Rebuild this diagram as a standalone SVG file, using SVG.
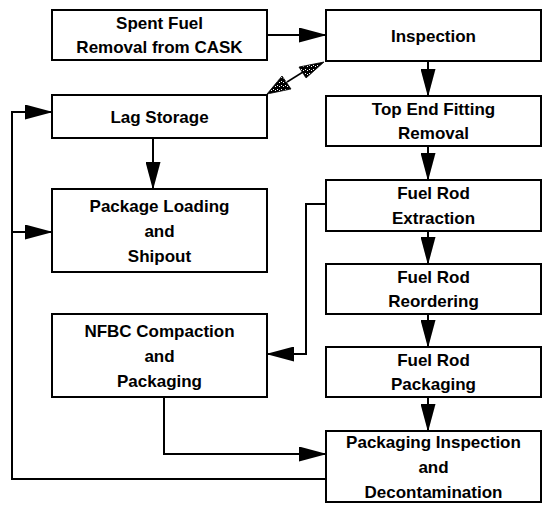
<svg xmlns="http://www.w3.org/2000/svg" width="547" height="505" viewBox="0 0 547 505">
  <style>
    .box { fill: #ffffff; stroke: #000000; stroke-width: 2; }
    .lbl { font-family: "Liberation Sans", Arial, sans-serif; font-weight: bold; font-size: 17px; fill: #000000; text-anchor: middle; }
    .wire { fill: none; stroke: #000000; stroke-width: 2; }
    .thin { fill: none; stroke: #000000; stroke-width: 1.5; }
  </style>
  <defs>
    <marker id="arrow" markerUnits="userSpaceOnUse" markerWidth="28" markerHeight="15" refX="27" refY="7.5" orient="auto" viewBox="0 0 28 15">
      <path d="M0,0 L28,7.5 L0,15 Z" fill="#000000"/>
    </marker>
    <!-- speckled fill for the two-way arrow heads -->
    <pattern id="stipple" width="4" height="4" patternUnits="userSpaceOnUse">
      <rect width="4" height="4" fill="#000000"/>
      <rect x="1" y="1" width="1" height="1" fill="#ffffff"/>
      <rect x="3" y="2" width="1" height="1" fill="#ffffff"/>
    </pattern>
  </defs>

  <rect width="547" height="505" fill="#ffffff"/>

  <!-- connectors -->
  <g id="connectors">
    <!-- removal -> inspection -->
    <line class="wire" x1="267" y1="35" x2="326" y2="35" marker-end="url(#arrow)"/>
    <!-- right column, top to bottom -->
    <line class="wire" x1="428" y1="61" x2="428" y2="96" marker-end="url(#arrow)"/>
    <line class="wire" x1="428" y1="146" x2="428" y2="180" marker-end="url(#arrow)"/>
    <line class="wire" x1="428" y1="231" x2="428" y2="264" marker-end="url(#arrow)"/>
    <line class="wire" x1="428" y1="314" x2="428" y2="347" marker-end="url(#arrow)"/>
    <line class="wire" x1="428" y1="397" x2="428" y2="431" marker-end="url(#arrow)"/>
    <!-- lag storage -> package loading -->
    <line class="wire" x1="153" y1="138" x2="153" y2="189" marker-end="url(#arrow)"/>
    <!-- extraction -> NFBC compaction -->
    <polyline class="wire" points="326,204 306,204 306,354 267,354" marker-end="url(#arrow)"/>
    <!-- NFBC compaction -> packaging inspection -->
    <polyline class="wire" points="164,397 164,454 326,454" marker-end="url(#arrow)"/>
    <!-- packaging inspection return loop -->
    <polyline class="wire" points="326,479 12,479 12,112 52,112" marker-end="url(#arrow)"/>
    <line class="wire" x1="12" y1="232" x2="52" y2="232" marker-end="url(#arrow)"/>
    <!-- inspection <-> lag storage (speckled double arrow) -->
    <line class="thin" x1="303" y1="72" x2="287" y2="82"/>
    <polygon points="324,62 306,78 299,67" fill="url(#stipple)" stroke="#000000" stroke-width="0.8"/>
    <polygon points="267,94 282,76 291,89" fill="url(#stipple)" stroke="#000000" stroke-width="0.8"/>
  </g>

  <g id="spent-fuel-removal">
    <rect class="box" x="52" y="10" width="215" height="50"/>
    <text class="lbl" x="159.5" y="29">Spent Fuel</text>
    <text class="lbl" x="159.5" y="53">Removal from CASK</text>
  </g>

  <g id="inspection">
    <rect class="box" x="326" y="10" width="215" height="51"/>
    <text class="lbl" x="433.5" y="41.5">Inspection</text>
  </g>

  <g id="lag-storage">
    <rect class="box" x="52" y="95" width="215" height="43"/>
    <text class="lbl" x="159.5" y="122.5">Lag Storage</text>
  </g>

  <g id="top-end-fitting-removal">
    <rect class="box" x="326" y="96" width="215" height="50"/>
    <text class="lbl" x="433.5" y="115">Top End Fitting</text>
    <text class="lbl" x="433.5" y="139">Removal</text>
  </g>

  <g id="package-loading">
    <rect class="box" x="52" y="189" width="215" height="83"/>
    <text class="lbl" x="159.5" y="211.5">Package Loading</text>
    <text class="lbl" x="159.5" y="236.5">and</text>
    <text class="lbl" x="159.5" y="261.5">Shipout</text>
  </g>

  <g id="fuel-rod-extraction">
    <rect class="box" x="326" y="180" width="215" height="51"/>
    <text class="lbl" x="433.5" y="199">Fuel Rod</text>
    <text class="lbl" x="433.5" y="224">Extraction</text>
  </g>

  <g id="fuel-rod-reordering">
    <rect class="box" x="326" y="264" width="215" height="50"/>
    <text class="lbl" x="433.5" y="283">Fuel Rod</text>
    <text class="lbl" x="433.5" y="307">Reordering</text>
  </g>

  <g id="nfbc-compaction">
    <rect class="box" x="52" y="314" width="215" height="83"/>
    <text class="lbl" x="159.5" y="336.5">NFBC Compaction</text>
    <text class="lbl" x="159.5" y="361.5">and</text>
    <text class="lbl" x="159.5" y="386.5">Packaging</text>
  </g>

  <g id="fuel-rod-packaging">
    <rect class="box" x="326" y="347" width="215" height="50"/>
    <text class="lbl" x="433.5" y="366">Fuel Rod</text>
    <text class="lbl" x="433.5" y="390">Packaging</text>
  </g>

  <g id="packaging-inspection">
    <rect class="box" x="326" y="431" width="215" height="71"/>
    <text class="lbl" x="433.5" y="447.5">Packaging Inspection</text>
    <text class="lbl" x="433.5" y="472.5">and</text>
    <text class="lbl" x="433.5" y="497.5">Decontamination</text>
  </g>
</svg>
